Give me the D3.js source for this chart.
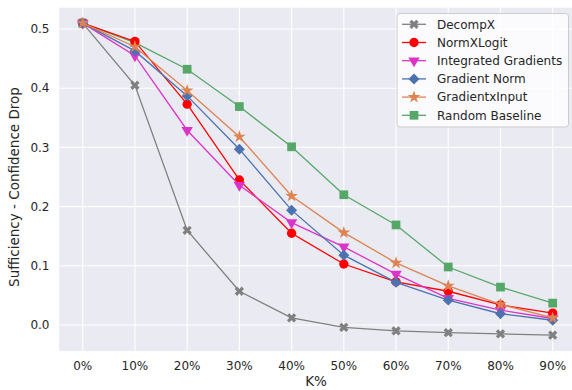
<!DOCTYPE html>
<html>
<head>
<meta charset="utf-8">
<script src="https://cdn.jsdelivr.net/npm/d3@7"></script>
<style>
body{margin:0;background:#fff;}
svg{display:block;font-family:"DejaVu Sans",sans-serif;}
</style>
</head>
<body>
<svg id="chart" width="572" height="390"></svg>
<script>
// K% steps on the x axis
const kValues=[0,10,20,30,40,50,60,70,80,90];
const kLabels=['0%','10%','20%','30%','40%','50%','60%','70%','80%','90%'];
const yTicks=[0,0.1,0.2,0.3,0.4,0.5];

// series
const decompX=[0.510,0.405,0.160,0.057,0.012,-0.004,-0.010,-0.013,-0.015,-0.017];
const normXLogit=[0.510,0.479,0.373,0.245,0.155,0.103,0.073,0.057,0.034,0.020];
const integratedGradients=[0.510,0.455,0.329,0.236,0.173,0.132,0.086,0.045,0.025,0.011];
const gradientNorm=[0.510,0.463,0.387,0.297,0.194,0.118,0.072,0.042,0.019,0.008];
const gradientxInput=[0.510,0.470,0.396,0.318,0.218,0.156,0.105,0.066,0.035,0.012];
const randomBaseline=[0.510,0.477,0.432,0.369,0.301,0.220,0.169,0.098,0.064,0.037];

const seriesNames=['DecompX','NormXLogit','Integrated Gradients','Gradient Norm','GradientxInput','Random Baseline'];

const series=[
  {name:seriesNames[0],values:decompX,color:'#808080',shape:'x'},
  {name:seriesNames[1],values:normXLogit,color:'#ff0000',shape:'circle'},
  {name:seriesNames[2],values:integratedGradients,color:'#dd34c8',shape:'tri'},
  {name:seriesNames[3],values:gradientNorm,color:'#4c72b0',shape:'diamond'},
  {name:seriesNames[4],values:gradientxInput,color:'#dd8452',shape:'star'},
  {name:seriesNames[5],values:randomBaseline,color:'#55a868',shape:'square'}
];

const svg=d3.select('#chart');
const textColor='#262626';

const x=d3.scaleLinear().domain([0,90]).range([82.7,552.7]);
const y=d3.scaleLinear().domain([0,0.5]).range([325,29]);

// axes background (matplotlib-like margins)
svg.append('rect')
  .attr('x',x(-4.5)).attr('y',y(0.536))
  .attr('width',x(94.5)-x(-4.5)).attr('height',y(-0.044)-y(0.536))
  .attr('fill','#eaeaf2');

// grid
svg.append('g').selectAll('line').data(yTicks).join('line')
  .attr('x1',x(-4.5)).attr('x2',x(94.5))
  .attr('y1',d=>y(d)).attr('y2',d=>y(d))
  .attr('stroke','#fff').attr('stroke-width',1.1);
svg.append('g').selectAll('line').data(kValues).join('line')
  .attr('x1',d=>x(d)).attr('x2',d=>x(d))
  .attr('y1',y(0.536)).attr('y2',y(-0.044))
  .attr('stroke','#fff').attr('stroke-width',1.1);

// tick labels
svg.append('g').selectAll('text').data(yTicks).join('text')
  .attr('x',49.5).attr('y',d=>y(d)).attr('dy','0.35em')
  .attr('text-anchor','end').attr('font-size',12).attr('fill',textColor)
  .text(d=>d3.format('.1f')(d));
svg.append('g').selectAll('text').data(kValues).join('text')
  .attr('x',d=>x(d)).attr('y',365.5).attr('dy','0.35em')
  .attr('text-anchor','middle').attr('font-size',12).attr('fill',textColor)
  .text((d,i)=>kLabels[i]);

// axis titles
svg.append('text').attr('x',316).attr('y',386)
  .attr('text-anchor','middle').attr('font-size',13.5).attr('fill',textColor)
  .text('K%');
svg.append('text').attr('transform','translate(18.5,187) rotate(-90)')
  .attr('text-anchor','middle').attr('font-size',13.5).attr('fill',textColor)
  .text('Sufficiency - Confidence Drop');

function markerPath(shape){
  if(shape==='x') return d3.symbol(d3.symbolCross,54)();
  if(shape==='circle') return d3.symbol(d3.symbolCircle,68)();
  if(shape==='tri') return d3.symbol(d3.symbolTriangle,56)();
  if(shape==='diamond') return d3.symbol(d3.symbolSquare,60)();
  if(shape==='star') return d3.symbol(d3.symbolStar,50)();
  return d3.symbol(d3.symbolSquare,76)();
}
function markerRot(shape){
  if(shape==='x'||shape==='diamond') return 45;
  if(shape==='tri') return 180;
  return 0;
}

const line=d3.line().x((d,i)=>x(kValues[i])).y(d=>y(d));

// random baseline underneath, rest in legend order
const drawOrder=[series[5],series[0],series[1],series[2],series[3],series[4]];

const plot=svg.append('g');
drawOrder.forEach(s=>{
  const g=plot.append('g');
  g.append('path').attr('d',line(s.values))
    .attr('fill','none').attr('stroke',s.color).attr('stroke-width',1.3);
  g.selectAll('path.mk').data(s.values).join('path').attr('class','mk')
    .attr('d',markerPath(s.shape))
    .attr('transform',(d,i)=>'translate('+x(kValues[i])+','+y(d)+') rotate('+markerRot(s.shape)+')')
    .attr('fill',s.color);
});

// legend
const legend=svg.append('g').attr('id','legend');
legend.append('rect').attr('x',397).attr('y',13.5).attr('width',171.5).attr('height',113.5)
  .attr('rx',3).attr('fill','#ffffff').attr('fill-opacity',0.8)
  .attr('stroke','#cccccc').attr('stroke-width',1);
const rowY=d3.scaleLinear().domain([0,5]).range([24.3,115.3]);
const items=legend.selectAll('g.item').data(series).join('g').attr('class','item')
  .attr('transform',(d,i)=>'translate(0,'+rowY(i)+')');
items.append('line').attr('x1',402).attr('x2',426).attr('y1',0).attr('y2',0)
  .attr('stroke',d=>d.color).attr('stroke-width',1.3);
items.append('path').attr('d',d=>markerPath(d.shape))
  .attr('transform',d=>'translate(414,0) rotate('+markerRot(d.shape)+')')
  .attr('fill',d=>d.color);
items.append('text').attr('x',437).attr('y',0).attr('dy','0.35em')
  .attr('font-size',12).attr('fill',textColor)
  .text(d=>d.name);
</script>
</body>
</html>
